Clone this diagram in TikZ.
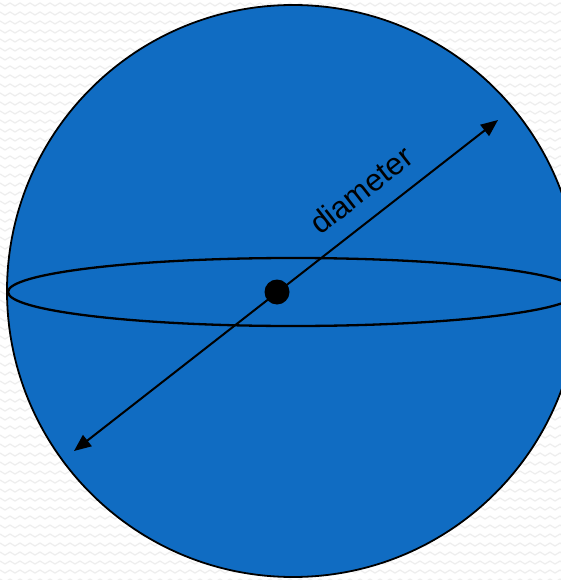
\documentclass[tikz,border=0pt]{standalone}
\usepackage{fontspec}
\setmainfont{Liberation Sans}
\usetikzlibrary{arrows.meta}
\definecolor{ballblue}{RGB}{16,108,194}
\definecolor{bgzig}{RGB}{238,238,238}
\tikzset{
  sphere/.style={fill=ballblue, draw=black, line width=1.8pt},
  equator/.style={draw=black, line width=2.3pt},
  centerdot/.style={circle, fill=black, inner sep=0pt, minimum size=25pt},
  diamarrow/.style={draw=black, line width=2pt, {Triangle[length=17pt,width=14pt]}-{Triangle[length=17pt,width=14pt]}},
  difflabel/.style={font=\fontsize{31}{31}\selectfont, inner sep=0pt}
}
\begin{document}
\begin{tikzpicture}[x=1pt,y=-1pt]
\useasboundingbox (0,0) rectangle (561,580);
\begin{scope}
\clip (0,0) rectangle (561,580);
\fill[white] (0,0) rectangle (561,580);
\foreach \r [evaluate=\r as \yy using \r*9+3] in {0,...,64}{
  \draw[bgzig, line width=1.2pt] (0,\yy) \foreach \k in {0,...,56}{ -- ({\k*10+5},{\yy+3}) -- ({\k*10+10},\yy) };
}
\path[sphere] (293,291) circle [radius=286];
\path[equator] (293,292) ellipse [x radius=285, y radius=34];
\end{scope}
\node[centerdot] (c) at (277,292) {};
\coordinate (a) at (74,451);
\coordinate (b) at (498,120);
\draw[diamarrow] (a) -- (b);
\node[difflabel, rotate=38] (t) at (361,190) {diameter};
\end{tikzpicture}
\end{document}
